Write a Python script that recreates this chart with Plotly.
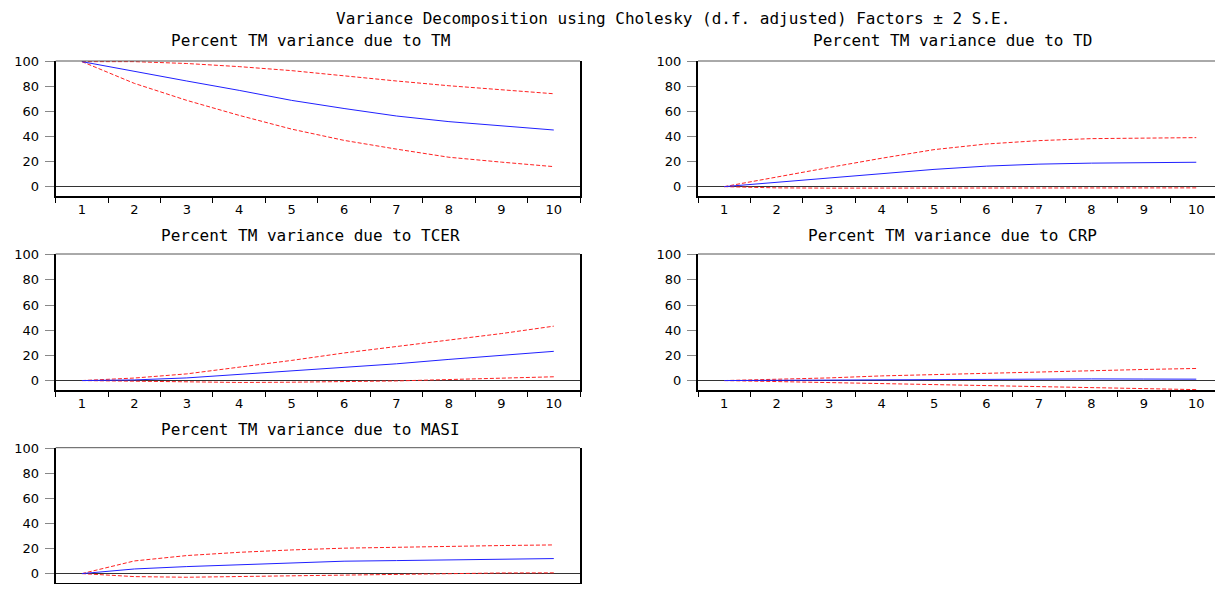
import plotly.graph_objects as go

periods = [1, 2, 3, 4, 5, 6, 7, 8, 9, 10]

tm_mean = [100, 92, 84.5, 77, 69, 62.5, 56.5, 52, 48.5, 45.3]
tm_upper = [100, 100, 98.5, 96, 92.8, 88.5, 84.5, 80.7, 77.5, 74.3]
tm_lower = [100, 82.6, 69, 57, 46, 37, 30, 23.5, 19.6, 16]

td_mean = [0, 3.4, 7, 10.3, 13.8, 16.4, 18, 18.8, 19.3, 19.5]
td_upper = [0, 7.9, 15.3, 22.7, 29.6, 34.1, 36.8, 38.4, 38.9, 39.2]
td_lower = [0, -1.0, -1.2, -1.2, -1.2, -1.2, -1.1, -1.1, -1.0, -1.0]

tcer_mean = [0, 0.5, 2.1, 4.8, 7.5, 10.4, 13.3, 16.8, 20, 23.2]
tcer_upper = [0, 2, 5.3, 10.4, 16, 21.9, 27, 32.3, 37.3, 43.2]
tcer_lower = [0, -0.5, -1.2, -1.5, -1.3, -1.0, -0.3, 0.8, 2.0, 3.0]

crp_mean = [0, 0.2, 0.5, 0.8, 1.0, 1.2, 1.3, 1.3, 1.2, 1.1]
crp_upper = [0, 0.8, 2.1, 3.7, 4.8, 5.9, 6.9, 7.7, 8.8, 9.6]
crp_lower = [0, -0.8, -1.6, -2.4, -3.2, -4.3, -5.0, -5.9, -6.7, -7.2]

masi_mean = [0, 3.7, 5.6, 7.2, 8.8, 9.9, 10.4, 10.9, 11.7, 12]
masi_upper = [0, 10.1, 14.4, 17, 18.9, 20.3, 21, 21.9, 22.4, 22.9]
masi_lower = [0, -2.4, -2.9, -2.3, -1.6, -0.9, -0.3, 0.2, 0.5, 0.6]

panel_titles = [
    "Percent TM variance due to TM",
    "Percent TM variance due to TD",
    "Percent TM variance due to TCER",
    "Percent TM variance due to CRP",
    "Percent TM variance due to MASI",
]
main_title = "Variance Decomposition using Cholesky (d.f. adjusted) Factors \u00b1 2 S.E."
y_ticks = [0, 20, 40, 60, 80, 100]

panels = [
    (tm_mean, tm_upper, tm_lower),
    (td_mean, td_upper, td_lower),
    (tcer_mean, tcer_upper, tcer_lower),
    (crp_mean, crp_upper, crp_lower),
    (masi_mean, masi_upper, masi_lower),
]

# figure sized so that, with the page's default 8px body margin, it fills the window
W, H = 1207, 576
col_x = [(47.7, 572.0), (690.0, 1207.0)]
col_range = [[0.5, 10.5], [0.5, 0.5 + (1207.0 - 690.0) / 52.45]]
row_y = [(53.0, 188.0), (246.0, 382.0), (439.7, 575.0)]
title_y = [33, 227, 421]
title_cx = [302.0, 944.0]

TICK_FONT = "DejaVu Sans"
TITLE_FONT = "DejaVu Sans Mono"
fig = go.Figure()
layout = dict(
    width=W, height=H, autosize=False,
    margin=dict(l=0, r=0, t=0, b=0, pad=0),
    paper_bgcolor="white", plot_bgcolor="white",
    showlegend=False,
    annotations=[], shapes=[],
)

for i, (mean, up, lo) in enumerate(panels):
    r, c = divmod(i, 2)
    n = "" if i == 0 else str(i + 1)
    xa, ya = "x" + n, "y" + n
    for vals, color, dash in [(up, "#ff2020", "4px,2px"),
                              (lo, "#ff2020", "4px,2px"),
                              (mean, "#2020ff", "solid")]:
        fig.add_trace(go.Scatter(x=periods, y=vals, mode="lines", xaxis=xa, yaxis=ya,
                                 line=dict(color=color, dash=dash, width=1),
                                 hoverinfo="skip"))
    x0, x1 = col_x[c]
    yt, yb = row_y[r]
    layout["xaxis" + n] = dict(
        domain=[x0 / W, x1 / W], anchor=ya, range=col_range[c], automargin=False,
        tickmode="array", tickvals=periods, ticktext=[str(p) for p in periods],
        ticks="", showgrid=False, zeroline=False,
        showline=True, linecolor="black", linewidth=2,
        tickfont=dict(family=TICK_FONT, size=13, color="black"),
        minor=dict(tickmode="linear", tick0=0.5, dtick=1, ticks="outside",
                   ticklen=5, tickwidth=1, tickcolor="black", showgrid=False),
    )
    layout["yaxis" + n] = dict(
        domain=[1 - yb / H, 1 - yt / H], anchor=xa, range=[-7.5, 100.5], automargin=False,
        tickmode="array", tickvals=y_ticks, ticks="outside", ticklen=9,
        tickcolor="#888888", tickwidth=1, ticklabelstandoff=3,
        showgrid=False, zeroline=True, zerolinecolor="#333333", zerolinewidth=1,
        showline=True, linecolor="black", linewidth=2, mirror=True,
        tickfont=dict(family=TICK_FONT, size=13, color="black"),
    )
    layout["shapes"].append(dict(type="line", xref=xa + " domain", yref=ya + " domain",
                                 x0=0, x1=1, y0=1, y1=1,
                                 line=dict(color="#555555", width=1)))
    layout["annotations"].append(dict(
        text=panel_titles[i], xref="paper", yref="paper",
        x=title_cx[c] / W, y=1 - title_y[r] / H, xanchor="center", yanchor="middle",
        showarrow=False, font=dict(family=TITLE_FONT, size=16, color="black")))

layout["annotations"].append(dict(
    text=main_title, xref="paper", yref="paper", x=665 / W, y=1 - 11 / H,
    xanchor="center", yanchor="middle", showarrow=False,
    font=dict(family=TITLE_FONT, size=16, color="black")))

fig.update_layout(**layout)
fig.write_html("out.html")
